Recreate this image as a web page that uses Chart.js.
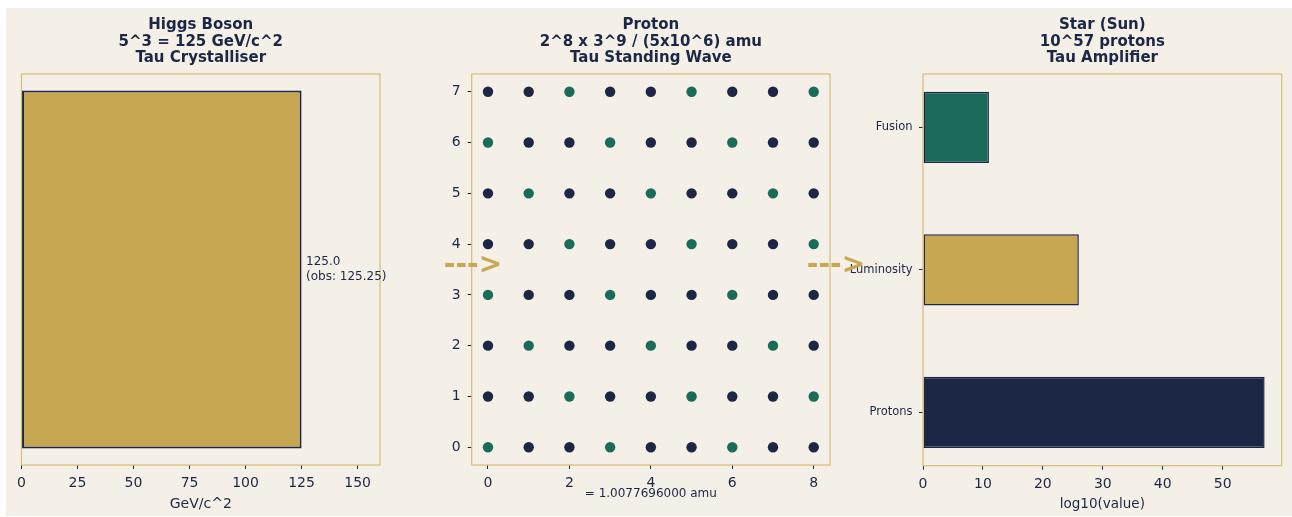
<!DOCTYPE html>
<html>
<head>
<meta charset="utf-8">
<script src="https://cdn.jsdelivr.net/npm/chart.js@4/dist/chart.umd.min.js"></script>
<style>
  html, body { margin: 0; padding: 0; background: #ffffff; width: 1292px; height: 517px; overflow: hidden; }
  #fig { position: absolute; left: 6px; top: 8px; width: 1286px; height: 508px; background: #f4f0e8; }
  .holder { position: absolute; top: 0; height: 517px; }
  .arrow { position: absolute; font: bold 28px 'DejaVu Sans'; color: #c8a752; line-height: 1; transform: translate(-50%, -50%); white-space: pre; }
</style>
</head>
<body>
<div id="fig"></div>
<div class="holder" style="left:0px;width:402px"><canvas id="c1" width="402" height="517"></canvas></div>
<div class="holder" style="left:420px;width:440px"><canvas id="c2" width="440" height="517"></canvas></div>
<div class="holder" style="left:830px;width:462px"><canvas id="c3" width="462" height="517"></canvas></div>
<div class="arrow" style="left:473px;top:264px">---&gt;</div>
<div class="arrow" style="left:836px;top:264px">---&gt;</div>
<script>
// ---------- data ----------
const higgsCategories = ['Higgs'];
const higgsMass = [125.0];
const higgsObserved = 125.25;
const higgsTicks = [0, 25, 50, 75, 100, 125, 150];

const protonXTicks = [0, 2, 4, 6, 8];
const protonYTicks = [0, 1, 2, 3, 4, 5, 6, 7];
// rows y = 0..7, columns x = 0..8 ; 1 = teal node, 0 = navy node
const protonGrid = [
  [1,0,0,1,0,0,1,0,0],
  [0,0,1,0,0,1,0,0,1],
  [0,1,0,0,1,0,0,1,0],
  [1,0,0,1,0,0,1,0,0],
  [0,0,1,0,0,1,0,0,1],
  [0,1,0,0,1,0,0,1,0],
  [1,0,0,1,0,0,1,0,0],
  [0,0,1,0,0,1,0,0,1]
];
const protonMassText = '= 1.0077696000 amu';

const starCategories = ['Protons', 'Luminosity', 'Fusion'];
const starLog10 = [57, 26, 11];
const starTicks = [0, 10, 20, 30, 40, 50];

// ---------- styles ----------
const NAVY = '#1b2744', GOLD = '#c8a752', TEAL = '#1b6b5b', FRAME = '#d7bc73';
const FONT = "'DejaVu Sans'";
Chart.defaults.font.family = FONT;
Chart.defaults.color = NAVY;
Chart.defaults.animation = false;

const framePlugin = {
  id: 'frame',
  afterDraw(chart) {
    const a = chart.chartArea, ctx = chart.ctx;
    ctx.save();
    ctx.strokeStyle = FRAME;
    ctx.lineWidth = 1.2;
    ctx.strokeRect(a.left, a.top, a.right - a.left, a.bottom - a.top);
    ctx.restore();
  }
};

function titleOpts(lines) {
  return {
    display: true, text: lines, color: NAVY, fullSize: false,
    font: { family: FONT, size: 15, weight: 'bold', lineHeight: 1.11 },
    padding: { top: 16.7, bottom: 7.35 }
  };
}
function fixedTicks(values) {
  return function (scale) { scale.ticks = values.map(v => ({ value: v })); };
}
const tickGrid = { display: true, offset: false, drawOnChartArea: false, drawTicks: true, tickLength: 4, tickColor: NAVY, tickWidth: 1 };

// ---------- chart 1: Higgs ----------
const higgsAnnot = {
  id: 'higgsAnnot',
  afterDraw(chart) {
    const ctx = chart.ctx, xs = chart.scales.x, ys = chart.scales.y;
    const x = xs.getPixelForValue(higgsMass[0]) + 4.5;
    const y = ys.getPixelForValue(0);
    ctx.save();
    ctx.font = "12px " + FONT;
    ctx.fillStyle = NAVY;
    ctx.textAlign = 'left';
    ctx.textBaseline = 'middle';
    ctx.fillText(higgsMass[0].toFixed(1), x, y - 7.5);
    ctx.fillText('(obs: ' + higgsObserved + ')', x, y + 7.5);
    ctx.restore();
  }
};
new Chart(document.getElementById('c1'), {
  type: 'bar',
  data: {
    labels: higgsCategories,
    datasets: [{ data: higgsMass, backgroundColor: GOLD, borderColor: NAVY, borderWidth: 2,
      borderSkipped: false, barPercentage: 0.915, categoryPercentage: 1 }]
  },
  options: {
    indexAxis: 'y', responsive: false,
    layout: { padding: { left: 21.5, right: 22, top: 0, bottom: 0 } },
    plugins: { legend: { display: false }, tooltip: { enabled: false },
      title: titleOpts(['Higgs Boson', '5^3 = 125 GeV/c^2', 'Tau Crystalliser']) },
    scales: {
      y: { display: false },
      x: { type: 'linear', min: 0, max: 160,
        afterBuildTicks: fixedTicks(higgsTicks),
        afterFit(s) { s.height = 52; },
        grid: tickGrid, border: { display: false },
        ticks: { color: NAVY, font: { size: 14 }, padding: 6, maxRotation: 0 },
        title: { display: true, text: 'GeV/c^2', color: NAVY, font: { size: 14 }, padding: 4 } }
    }
  },
  plugins: [framePlugin, higgsAnnot]
});

// ---------- chart 2: Proton ----------
const navyPts = [], tealPts = [];
protonGrid.forEach((row, yi) => row.forEach((flag, xi) => {
  (flag ? tealPts : navyPts).push({ x: xi, y: yi });
}));
const protonText = {
  id: 'protonText',
  afterDraw(chart) {
    const ctx = chart.ctx, a = chart.chartArea;
    ctx.save();
    ctx.font = "12px " + FONT;
    ctx.fillStyle = NAVY;
    ctx.textAlign = 'center';
    ctx.textBaseline = 'middle';
    ctx.fillText(protonMassText, (a.left + a.right) / 2, 494);
    ctx.restore();
  }
};
new Chart(document.getElementById('c2'), {
  type: 'scatter',
  data: {
    datasets: [
      { data: navyPts, backgroundColor: NAVY, borderWidth: 0, pointRadius: 5.2 },
      { data: tealPts, backgroundColor: TEAL, borderWidth: 0, pointRadius: 5.2 }
    ]
  },
  options: {
    responsive: false,
    layout: { padding: { left: 0, right: 30, top: 0, bottom: 0 } },
    plugins: { legend: { display: false }, tooltip: { enabled: false },
      title: titleOpts(['Proton', '2^8 x 3^9 / (5x10^6) amu', 'Tau Standing Wave']) },
    scales: {
      x: { type: 'linear', min: -0.4, max: 8.4,
        afterBuildTicks: fixedTicks(protonXTicks),
        afterFit(s) { s.height = 52; },
        grid: tickGrid, border: { display: false },
        ticks: { color: NAVY, font: { size: 14 }, padding: 6, maxRotation: 0 } },
      y: { type: 'linear', min: -0.35, max: 7.35,
        afterBuildTicks: fixedTicks(protonYTicks),
        afterFit(s) { s.width = 51.7; },
        grid: tickGrid, border: { display: false },
        ticks: { color: NAVY, font: { size: 14 }, padding: 7 } }
    }
  },
  plugins: [framePlugin, protonText]
});

// ---------- chart 3: Star ----------
new Chart(document.getElementById('c3'), {
  type: 'bar',
  data: {
    datasets: [{
      data: starLog10.map((v, i) => ({ x: v, y: i })),
      backgroundColor: [NAVY, GOLD, TEAL], borderColor: NAVY, borderWidth: 1.5,
      borderSkipped: false, barPercentage: 0.5, categoryPercentage: 1
    }]
  },
  options: {
    indexAxis: 'y', responsive: false,
    layout: { padding: { left: 0, right: 10.3, top: 0, bottom: 0 } },
    plugins: { legend: { display: false }, tooltip: { enabled: false },
      title: titleOpts(['Star (Sun)', '10^57 protons', 'Tau Amplifier']) },
    scales: {
      y: { type: 'linear', offset: false, min: -0.375, max: 2.375,
        afterBuildTicks: fixedTicks([0, 1, 2]),
        afterFit(s) { s.width = 93; },
        grid: tickGrid, border: { display: false },
        ticks: { color: NAVY, font: { size: 11.5 }, padding: 6.5,
          callback: v => starCategories[v] } },
      x: { type: 'linear', offset: false, min: 0, max: 59.85,
        afterBuildTicks: fixedTicks(starTicks),
        afterFit(s) { s.height = 51.3; },
        grid: tickGrid, border: { display: false },
        ticks: { color: NAVY, font: { size: 14 }, padding: 6, maxRotation: 0 },
        title: { display: true, text: 'log10(value)', color: NAVY, font: { size: 13.5 }, padding: 4 } }
    }
  },
  plugins: [framePlugin]
});
</script>
</body>
</html>
